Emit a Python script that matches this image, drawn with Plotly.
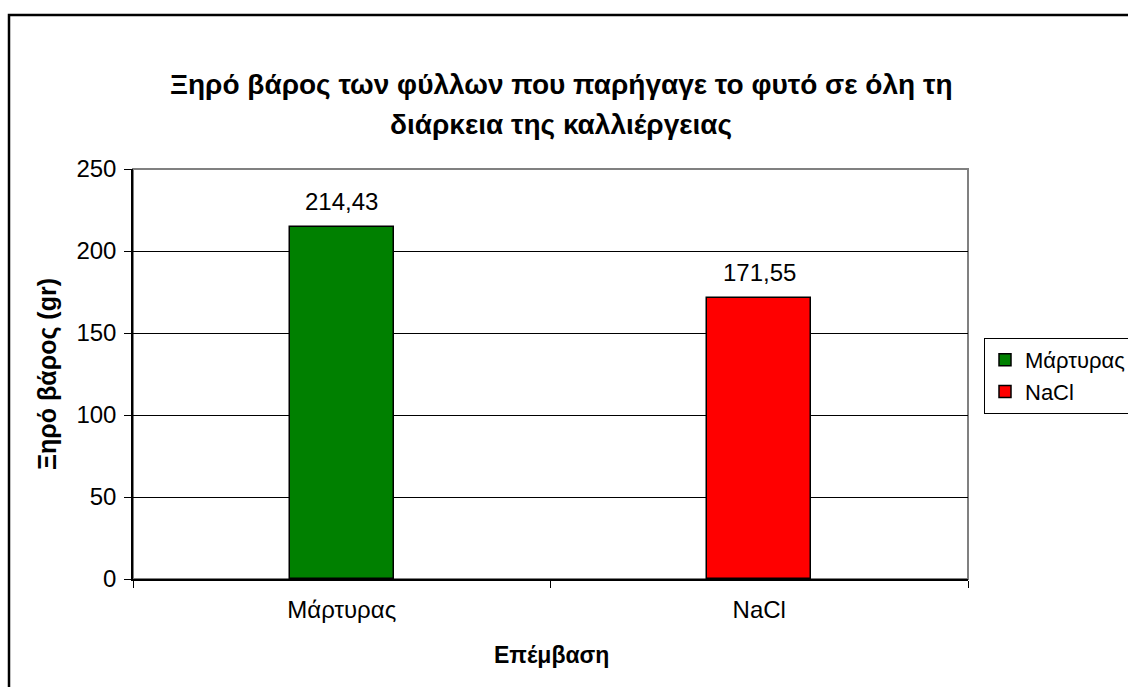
import plotly.graph_objects as go

# Dry leaf weight per treatment
categories = ["Μάρτυρας", "NaCl"]
values = [214.43, 171.55]
colors = ["#008000", "#FF0000"]
y_ticks = [0, 50, 100, 150, 200, 250]

title_lines = ["Ξηρό βάρος των φύλλων που παρήγαγε το φυτό σε όλη τη",
               "διάρκεια της καλλιέργειας"]

FONT = "Liberation Sans, Arial, sans-serif"
W, H = 1128, 687
ML, MR, MT, MB = 133, 160, 169, 108
PW, PH = W - ML - MR, H - MT - MB


def px_x(x):
    return (x - ML) / PW


def px_y(y):
    return (H - MB - y) / PH


fig = go.Figure()
for cat, val, col in zip(categories, values, colors):
    fig.add_trace(go.Bar(
        x=[cat], y=[val], name=cat, width=0.25,
        marker=dict(color=col, line=dict(color="black", width=1.5)),
    ))

# value labels above each bar
for cat, val in zip(categories, values):
    fig.add_annotation(
        x=cat, y=val, xref="x", yref="y",
        text=f"{val:.2f}".replace(".", ","),
        showarrow=False, yanchor="bottom", yshift=10,
        font=dict(family=FONT, size=24, color="black"),
    )

# two-line chart title
for i, line in enumerate(title_lines):
    fig.add_annotation(
        x=px_x(561), y=px_y(84 + 41 * i), xref="paper", yref="paper",
        text=f"<b>{line}</b>", showarrow=False,
        xanchor="center", yanchor="middle",
        font=dict(family=FONT, size=28, color="black"),
    )

# axis titles
fig.add_annotation(
    x=px_x(47), y=0.5, xref="paper", yref="paper",
    text="<b>Ξηρό βάρος (gr)</b>", textangle=-90, showarrow=False,
    xanchor="center", yanchor="middle",
    font=dict(family=FONT, size=25, color="black"),
)
fig.add_annotation(
    x=px_x(551), y=px_y(655), xref="paper", yref="paper",
    text="<b>Επέμβαση</b>", showarrow=False,
    xanchor="center", yanchor="middle",
    font=dict(family=FONT, size=23, color="black"),
)

# grey plot-area frame and outer chart border (runs past the right/bottom edge)
fig.add_shape(type="rect", xref="paper", yref="paper", x0=0, y0=0, x1=1, y1=1,
              line=dict(color="#808080", width=2), layer="below")
fig.add_shape(type="rect", xref="paper", yref="paper",
              x0=px_x(9), y0=px_y(15), x1=px_x(W + 200), y1=px_y(H + 200),
              line=dict(color="black", width=2.5))

fig.update_layout(
    width=W, height=H,
    margin=dict(l=ML, r=MR, t=MT, b=MB, pad=0, autoexpand=False),
    paper_bgcolor="white", plot_bgcolor="white",
    barmode="overlay", bargap=0,
    font=dict(family=FONT, size=24, color="black"),
    showlegend=True,
    legend=dict(
        x=px_x(984), y=px_y(338), xanchor="left", yanchor="top",
        bordercolor="black", borderwidth=1, bgcolor="white",
        font=dict(family=FONT, size=22, color="black"),
        tracegroupgap=0, itemwidth=30,
    ),
    xaxis=dict(
        type="category", showgrid=False,
        showline=True, linecolor="black", linewidth=1.5,
        ticks="outside", tickson="boundaries", ticklen=7, tickcolor="black",
        tickfont=dict(family=FONT, size=24), ticklabelstandoff=8,
    ),
    yaxis=dict(
        range=[0, 250], tickvals=y_ticks,
        showgrid=True, gridcolor="black", gridwidth=1,
        showline=True, linecolor="black", linewidth=1.5,
        ticks="outside", ticklen=7, tickcolor="black",
        tickfont=dict(family=FONT, size=24), zeroline=False,
        ticklabelstandoff=3,
    ),
)

fig.write_html("out.html")
